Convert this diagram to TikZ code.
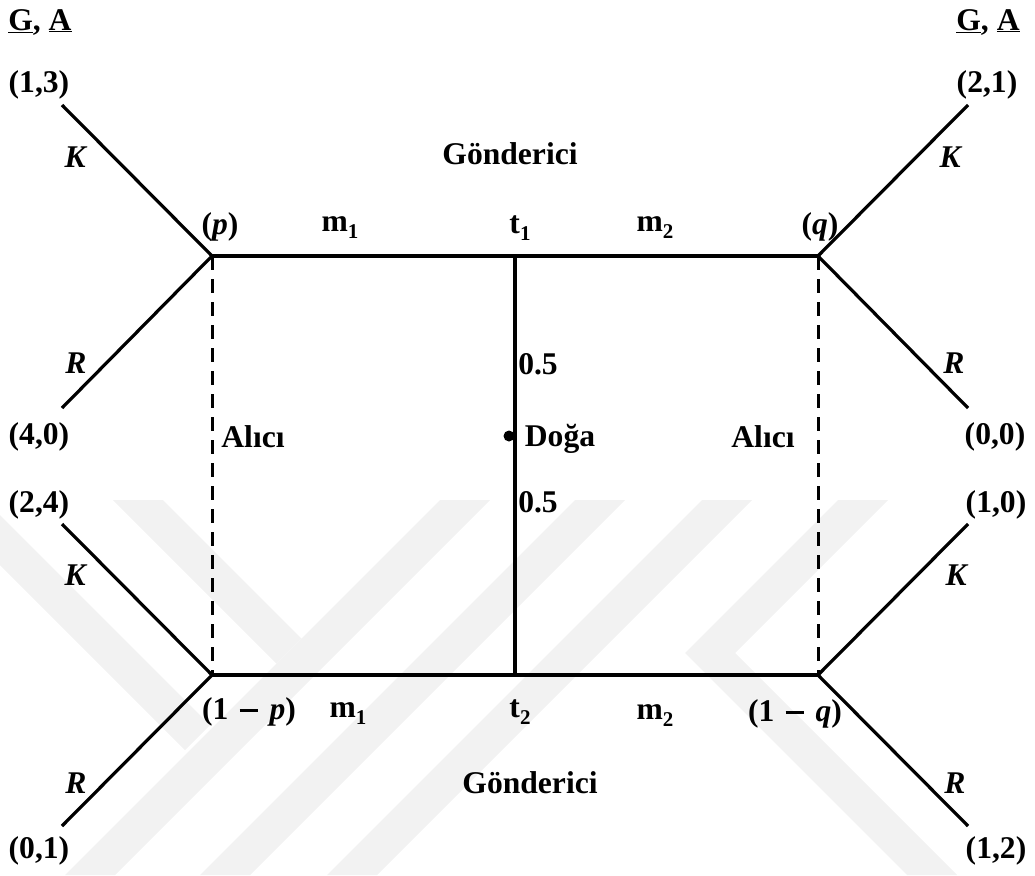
\documentclass[tikz,border=0pt]{standalone}
\usepackage{fontspec}
\setmainfont{Liberation Serif}
\newcommand\subx[1]{\raisebox{-0.22em}{\fontsize{21}{21}\selectfont #1}}
\newcommand\mminus{\hspace{0.35em}\rule[0.24em]{0.6em}{0.085em}\hspace{0.35em}}
\begin{document}
\begin{tikzpicture}[x=1pt,y=-1pt,
  lbl/.style={font=\fontsize{31.6}{36}\selectfont\bfseries, inner sep=0pt},
  edge/.style={line width=3.2pt},
  dashedge/.style={line width=3pt, dash pattern=on 14pt off 9pt},
  wm/.style={fill=black!5, draw=none},
  natdot/.style={circle, fill=black, inner sep=0pt, minimum size=11pt}]
\useasboundingbox (0,0) rectangle (1035,875);
% faint background watermark
\fill[wm] (113,500) -- (163,500) -- (301.5,638.5) -- (276.5,663.5) -- cycle;
\fill[wm] (440,500) -- (490,500) -- (115,875) -- (65,875) -- cycle;
\fill[wm] (0,515) -- (210,725) -- (185,750) -- (0,565) -- cycle;
\fill[wm] (575,500) -- (625,500) -- (250,875) -- (200,875) -- cycle;
\fill[wm] (702,500) -- (752,500) -- (377,875) -- (327,875) -- cycle;
\fill[wm] (838,500) -- (888,500) -- (735,653) -- (957,875) -- (907,875) -- (685,653) -- cycle;
% decision points
\coordinate (P) at (212,256);
\coordinate (Q) at (818,256);
\coordinate (T1) at (515,256);
\coordinate (PB) at (212,675);
\coordinate (QB) at (818,675);
\coordinate (T2) at (515,675);
\coordinate (a1) at (62,105);
\coordinate (a2) at (62,408);
\coordinate (a3) at (62,524);
\coordinate (a4) at (62,826);
\coordinate (b1) at (968,105);
\coordinate (b2) at (968,408);
\coordinate (b3) at (968,524);
\coordinate (b4) at (968,826);
% connectors
\draw[dashedge] (P) -- (PB);
\draw[dashedge] (Q) -- (QB);
\draw[edge] (a1) -- (P) -- (a2);
\draw[edge] (P) -- (T1) -- (Q);
\draw[edge] (b1) -- (Q) -- (b2);
\draw[edge] (a3) -- (PB) -- (a4);
\draw[edge] (PB) -- (T2) -- (QB);
\draw[edge] (b3) -- (QB) -- (b4);
\draw[edge] (T1) -- (T2);
\node[natdot] (N) at (509,436) {};
% labels
\node[lbl] (gaL) at (40,22) {\underline{G}, \underline{A}};
\node[lbl] (gaR) at (988,22) {\underline{G}, \underline{A}};
\node[lbl] (o13) at (39,85) {(1,3)};
\node[lbl] (o21) at (987,85) {(2,1)};
\node[lbl] (o40) at (39,437) {(4,0)};
\node[lbl] (o00) at (995,437) {(0,0)};
\node[lbl] (o24) at (39,505) {(2,4)};
\node[lbl] (o10) at (996,505) {(1,0)};
\node[lbl] (o01) at (39,851) {(0,1)};
\node[lbl] (o12) at (996,851) {(1,2)};
\node[lbl] (k1) at (76,157) {\textit{K}};
\node[lbl] (k2) at (951,157) {\textit{K}};
\node[lbl] (k3) at (76,575) {\textit{K}};
\node[lbl] (k4) at (957,575) {\textit{K}};
\node[lbl] (r1) at (76,363) {\textit{R}};
\node[lbl] (r2) at (954,363) {\textit{R}};
\node[lbl] (r3) at (76,783) {\textit{R}};
\node[lbl] (r4) at (955,783) {\textit{R}};
\node[lbl] (g1) at (510,154) {Gönderici};
\node[lbl] (g2) at (530,783) {Gönderici};
\node[lbl] (pp) at (220,227) {(\textit{p})};
\node[lbl] (m1t) at (340,228) {m\subx{1}};
\node[lbl] (t1) at (520,228) {t\subx{1}};
\node[lbl] (m2t) at (655,228) {m\subx{2}};
\node[lbl] (qq) at (820,227) {(\textit{q})};
\node[lbl] (pb) at (249,712) {(1\mminus\textit{p})};
\node[lbl] (m1b) at (348,714) {m\subx{1}};
\node[lbl] (t2) at (520,712) {t\subx{2}};
\node[lbl] (m2b) at (655,716) {m\subx{2}};
\node[lbl] (qb) at (795,714) {(1\mminus\textit{q})};
\node[lbl] (al1) at (253,437) {Alıcı};
\node[lbl] (al2) at (763,437) {Alıcı};
\node[lbl] (doga) at (560,439) {Doğa};
\node[lbl] (h1) at (538,364) {0.5};
\node[lbl] (h2) at (538,502) {0.5};
\end{tikzpicture}
\end{document}
